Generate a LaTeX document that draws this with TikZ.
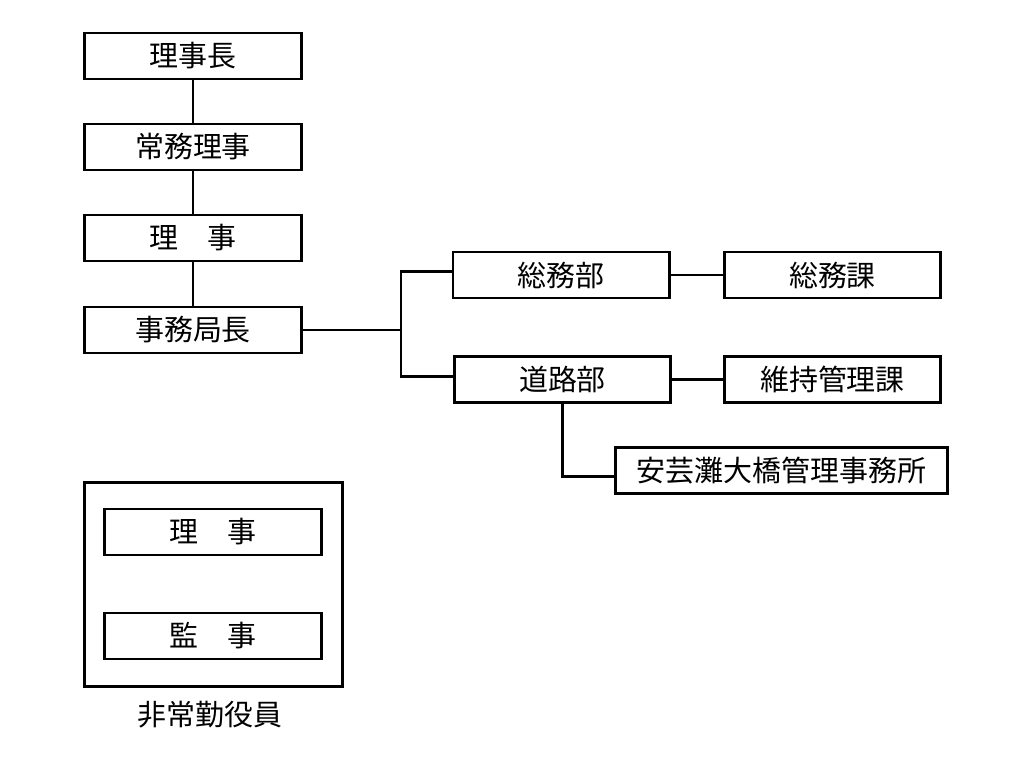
\documentclass[tikz,border=0pt]{standalone}
\usepackage{fontspec}
\newfontfamily\jpfont{Noto Sans CJK JP}
\usepackage{tikz}
\usetikzlibrary{positioning,calc}
\tikzset{
  post/.style={draw=black, line width=2.1pt, fill=white, align=center, inner sep=0pt, minimum width=5.4cm, minimum height=1.15cm, font=\jpfont\fontsize{20.6}{24}\selectfont},
  widepost/.style={post, minimum width=8.3cm},
  frame/.style={draw=black, line width=2.1pt, minimum width=6.45cm, minimum height=5.1cm, inner sep=0pt},
  caption/.style={inner sep=0pt, font=\jpfont\fontsize{20.6}{24}\selectfont},
  link/.style={line width=2pt, draw=black},
}
\begin{document}
\begin{tikzpicture}[x=0.025cm, y=-0.025cm]
    \useasboundingbox (0,0) rectangle (1025,761);
    \node[post] (chair) at (193,56) {理事長};
    \node[post] (mdir) at (193,147) {常務理事};
    \node[post] (dir) at (193,238) {理　事};
    \node[post] (sec) at (193,330) {事務局長};
    \node[post] (gen) at (561,275) {総務部};
    \node[post] (genka) at (832.5,275) {総務課};
    \node[post] (road) at (562.5,379.5) {道路部};
    \node[post] (maint) at (832.5,379.5) {維持管理課};
    \node[widepost] (bridge) at (781.5,470.5) {安芸灘大橋管理事務所};
    \node[frame] (part) at (213.5,584.5) {};
    \node[post] (pdir) at (213,532) {理　事};
    \node[post] (audit) at (213,636) {監　事};
    \node[caption] (partlbl) at (210,715) {非常勤役員};
    \coordinate (fork) at (401,330);
    \draw[link] (chair) -- (mdir); \draw[link] (mdir) -- (dir); \draw[link] (dir) -- (sec);
    \draw[link] (sec.east) -- (fork);
    \draw[link] ([yshift=0.08cm]gen.west) -| (fork) |- ([yshift=0.07cm]road.west);
    \draw[link] (gen) -- (genka); \draw[link] (road) -- (maint);
    \draw[link] (road.south) |- ([yshift=-0.15cm]bridge.west);
  \end{tikzpicture}
\end{document}
